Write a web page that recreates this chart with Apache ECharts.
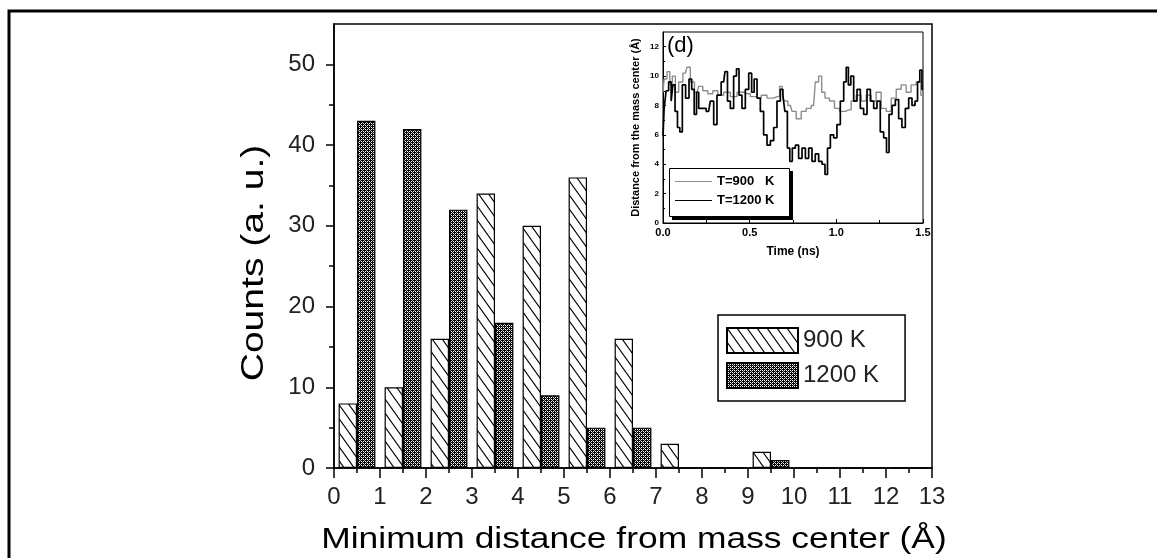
<!DOCTYPE html>
<html><head><meta charset="utf-8">
<script src="https://cdn.jsdelivr.net/npm/echarts@6/dist/echarts.min.js"></script>
<style>html,body{margin:0;padding:0;background:#fff}#c{width:1157px;height:558px}</style>
</head><body><div id="c"></div>
<script>
// ---- data ----
const bins = ['0','1','2','3','4','5','6','7','8','9','10','11','12'];
const counts900 = [8, 10, 16, 34, 30, 36, 16, 3, 0, 2, 0, 0, 0];
const counts1200 = [43, 42, 32, 18, 9, 5, 5, 0, 0, 1, 0, 0, 0];
const yLabelValues = [0, 10, 20, 30, 40, 50];
const seriesNames = ['900 K', '1200 K'];

// inset: distance from the mass center vs time
const time900 = [0.000,0.013,0.033,0.046,0.062,0.081,0.100,0.129,0.148,0.167,0.196,0.215,0.244,0.273,0.302,0.331,0.369,0.408,0.446,0.485,0.523,0.552,0.581,0.619,0.658,0.687,0.706,0.735,0.754,0.783,0.812,0.840,0.869,0.888,0.908,0.923,0.946,0.975,1.004,1.033,1.071,1.100,1.129,1.158,1.187,1.215,1.244,1.273,1.302,1.331,1.360,1.388,1.417,1.446,1.475,1.500];
const dist900 = [8.9,9.8,10.3,9.4,10.0,8.9,9.6,10.2,10.6,9.6,8.9,9.3,9.0,8.8,9.0,8.7,8.9,8.6,8.9,8.8,8.6,8.5,8.7,8.5,8.6,9.3,8.3,8.0,7.6,7.1,7.6,7.8,8.0,9.6,10.0,8.9,8.5,8.3,7.8,7.6,7.7,8.3,8.7,8.3,8.7,8.3,8.9,7.8,7.6,8.5,9.1,9.4,8.9,9.4,9.6,8.7];
const time1200 = [0.000,0.013,0.023,0.042,0.052,0.062,0.077,0.090,0.104,0.119,0.142,0.158,0.173,0.187,0.200,0.212,0.235,0.263,0.283,0.302,0.321,0.350,0.365,0.379,0.398,0.417,0.431,0.446,0.465,0.485,0.504,0.519,0.533,0.552,0.571,0.590,0.610,0.629,0.648,0.667,0.687,0.696,0.710,0.725,0.738,0.754,0.773,0.792,0.812,0.831,0.850,0.869,0.888,0.908,0.927,0.942,0.956,0.975,0.994,1.013,1.033,1.052,1.062,1.077,1.090,1.110,1.129,1.148,1.167,1.187,1.206,1.225,1.244,1.263,1.283,1.296,1.312,1.331,1.350,1.369,1.388,1.408,1.427,1.446,1.462,1.475,1.488,1.500];
const dist1200 = [5.9,7.8,9.0,9.6,8.3,9.4,7.6,6.5,6.2,9.4,8.5,9.8,9.1,7.4,8.9,7.8,7.8,7.6,8.3,6.7,8.7,9.6,10.3,8.3,7.8,10.0,10.5,8.7,7.8,9.1,10.2,8.9,9.8,8.5,7.6,6.0,5.3,5.6,6.5,8.3,9.1,8.7,7.6,5.1,4.2,5.1,5.3,4.4,5.1,4.4,5.1,4.2,4.7,4.2,4.0,3.3,5.1,6.0,5.8,6.7,8.3,9.6,10.6,9.4,10.0,8.3,9.1,7.8,7.4,9.1,8.3,7.8,8.3,6.2,5.8,4.8,7.4,8.0,8.4,7.1,6.5,7.8,8.5,8.0,8.3,9.6,10.4,9.1];
const insetNames = ['T=900   K', 'T=1200 K'];
const insetYLabelValues = [0, 2, 4, 6, 8, 10, 12];

// ---- fill patterns ----
function hatchPattern() {
  const w = 10, h = 14;
  const c = document.createElement('canvas'); c.width = w; c.height = h;
  const g = c.getContext('2d');
  g.fillStyle = '#fff'; g.fillRect(0, 0, w, h);
  g.strokeStyle = '#000'; g.lineWidth = 1.1;
  g.beginPath();
  for (const dx of [-w, 0, w]) { g.moveTo(dx - w, -h); g.lineTo(dx + 2 * w, 2 * h); }
  g.stroke();
  return { image: c, repeat: 'repeat' };
}
function checkPattern() {
  const c = document.createElement('canvas'); c.width = 4; c.height = 4;
  const g = c.getContext('2d');
  g.fillStyle = '#000'; g.fillRect(0, 0, 4, 4);
  g.fillStyle = '#fff';
  [[1,1],[3,3],[1,3],[3,1]].forEach(p => g.fillRect(p[0], p[1], 1, 1));
  g.fillStyle = '#aaa';
  [[0,0],[2,2]].forEach(p => g.fillRect(p[0], p[1], 1, 1));
  return { image: c, repeat: 'repeat' };
}
// thin horizontal line icon with a full-height bounding box
const lineIcon = 'path://M0,0 L0.01,0 M0,5.4 L37,5.4 L37,6.6 L0,6.6 Z M36.99,12 L37,12';

const FONT = '"Liberation Sans", Arial, sans-serif';
const chart = echarts.init(document.getElementById('c'), null, { renderer: 'canvas' });

const option = {
  animation: false,
  backgroundColor: '#fff',
  grid: [
    { left: 334, top: 24, width: 598, height: 444, show: true, borderColor: '#000', borderWidth: 1.5, backgroundColor: 'transparent' },
    { left: 663, top: 32, width: 260, height: 191, show: true, borderColor: '#000', borderWidth: 1, backgroundColor: '#fff' }
  ],
  xAxis: [
    { type: 'value', gridIndex: 0, min: 0, max: 13, interval: 1,
      axisLine: { lineStyle: { color: '#000', width: 1.5 } },
      axisTick: { show: true, inside: false, length: 10, lineStyle: { color: '#000', width: 1.5 } },
      minorTick: { show: true, splitNumber: 2, length: 5, lineStyle: { color: '#000', width: 1.5 } },
      splitLine: { show: false },
      axisLabel: { fontSize: 24, color: '#222', fontFamily: FONT, margin: 17 } },
    { type: 'category', gridIndex: 0, data: bins, show: false, boundaryGap: true },
    { type: 'value', gridIndex: 1, min: 0, max: 1.5, interval: 0.5,
      axisLine: { lineStyle: { color: '#000', width: 1 } },
      axisTick: { inside: true, length: 4, lineStyle: { color: '#000' } },
      minorTick: { show: true, splitNumber: 2, length: 3, lineStyle: { color: '#000' } },
      splitLine: { show: false },
      axisLabel: { fontSize: 11, fontWeight: 'bold', color: '#000', fontFamily: FONT, margin: 4,
        formatter: v => v.toFixed(1) },
      name: 'Time (ns)', nameLocation: 'middle', nameGap: 23,
      nameTextStyle: { fontSize: 12, fontWeight: 'bold', color: '#000', fontFamily: FONT } }
  ],
  yAxis: [
    { type: 'value', gridIndex: 0, min: 0, max: 55, interval: 10, position: 'left',
      axisLine: { show: true, onZero: false, lineStyle: { color: '#000', width: 1.5 } },
      axisTick: { show: true, inside: false, length: 8, customValues: yLabelValues, lineStyle: { color: '#000', width: 1.5 } },
      minorTick: { show: true, splitNumber: 2, length: 5, lineStyle: { color: '#000', width: 1.5 } },
      axisLabel: { customValues: yLabelValues, fontSize: 24, color: '#222', fontFamily: FONT, margin: 19 },
      splitLine: { show: false } },
    { type: 'value', gridIndex: 1, min: 0, max: 13, interval: 2, position: 'left',
      axisLine: { show: true, onZero: false, lineStyle: { color: '#000', width: 1 } },
      axisTick: { show: true, inside: true, length: 3, customValues: insetYLabelValues, lineStyle: { color: '#000' } },
      minorTick: { show: true, splitNumber: 2, length: 2, lineStyle: { color: '#000' } },
      axisLabel: { customValues: insetYLabelValues, fontSize: 8, fontWeight: 'bold', color: '#000', fontFamily: FONT, margin: 4 },
      splitLine: { show: false },
      name: 'Distance from the mass center (\u00C5)', nameLocation: 'middle', nameGap: 22, nameRotate: 90,
      nameTextStyle: { fontSize: 11, fontWeight: 'bold', color: '#000', fontFamily: FONT } }
  ],
  legend: [
    { left: 718, top: 315, orient: 'vertical', data: seriesNames, icon: 'rect',
      itemWidth: 71, itemHeight: 25, itemGap: 8, padding: [12, 26, 12, 8],
      borderColor: '#000', borderWidth: 1.5, backgroundColor: '#fff',
      textStyle: { fontSize: 24, lineHeight: 25, color: '#222', fontFamily: FONT } },
    { left: 669, top: 168, orient: 'vertical', z: 10,
      data: insetNames.map(n => ({ name: n, icon: lineIcon })),
      itemWidth: 37, itemHeight: 12, itemGap: 6, padding: [7, 4, 4, 6],
      borderWidth: 0, backgroundColor: 'transparent',
      textStyle: { fontSize: 13, lineHeight: 13, fontWeight: 'bold', color: '#000', fontFamily: FONT } }
  ],
  series: [
    { name: seriesNames[0], type: 'bar', xAxisIndex: 1, yAxisIndex: 0, data: counts900,
      barWidth: '40%', barGap: '0%',
      itemStyle: { color: hatchPattern(), borderColor: '#000', borderWidth: 1.2 } },
    { name: seriesNames[1], type: 'bar', xAxisIndex: 1, yAxisIndex: 0, data: counts1200,
      barWidth: '40%', barGap: '0%',
      itemStyle: { color: checkPattern(), borderColor: '#000', borderWidth: 1.2 } },
    { name: insetNames[0], type: 'line', xAxisIndex: 2, yAxisIndex: 1, symbol: 'none', step: 'middle',
      data: time900.map((t, i) => [t, dist900[i]]),
      lineStyle: { color: '#8c8c8c', width: 1.4 }, itemStyle: { color: '#8c8c8c' } },
    { name: insetNames[1], type: 'line', xAxisIndex: 2, yAxisIndex: 1, symbol: 'none', step: 'middle',
      data: time1200.map((t, i) => [t, dist1200[i]]),
      lineStyle: { color: '#000', width: 1.7 }, itemStyle: { color: '#000' } }
  ],
  graphic: [
    { type: 'polyline', z: 50, shape: { points: [[9, 558], [9, 11], [1157, 11]] },
      style: { stroke: '#000', lineWidth: 3, fill: null } },
    // inset legend frame with its drop shadow
    { type: 'rect', z: 8, shape: { x: 672, y: 171, width: 121, height: 49 }, style: { fill: '#000' } },
    { type: 'rect', z: 9, shape: { x: 669.5, y: 168.5, width: 120, height: 48 },
      style: { fill: '#fff', stroke: '#000', lineWidth: 1 } },
    { type: 'text', x: 634, y: 540, scaleX: 1.18, z: 50,
      style: { text: 'Minimum distance from mass center (\u00C5)', font: '30px ' + FONT, fill: '#000',
        textAlign: 'center', textVerticalAlign: 'middle' } },
    { type: 'text', x: 254, y: 263, rotation: Math.PI / 2, scaleX: 1.26, z: 50,
      style: { text: 'Counts (a. u.)', font: '31px ' + FONT, fill: '#000',
        textAlign: 'center', textVerticalAlign: 'middle' } },
    { type: 'text', x: 667, y: 46, z: 50,
      style: { text: '(d)', font: '22px ' + FONT, fill: '#000', textAlign: 'left', textVerticalAlign: 'middle' } }
  ]
};
chart.setOption(option);
</script>
</body></html>
